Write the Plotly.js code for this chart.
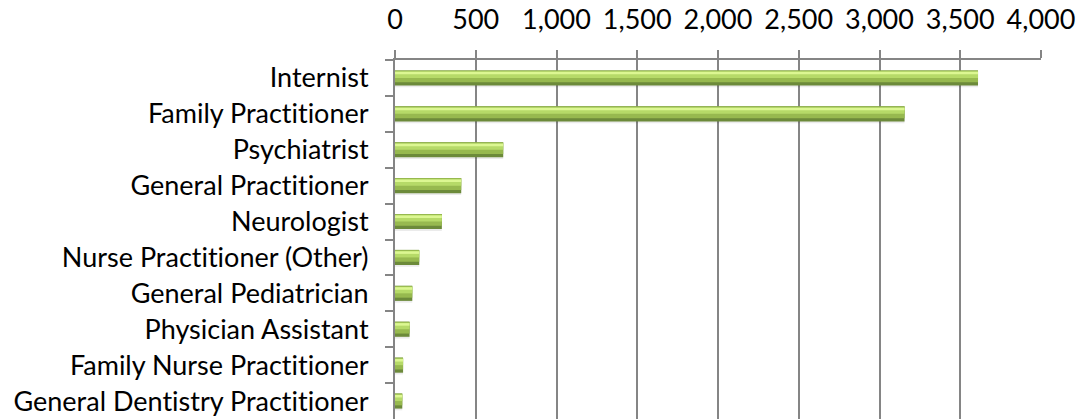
<!DOCTYPE html>
<html>
<head>
<meta charset="utf-8">
<script src="https://cdn.plot.ly/plotly-3.0.1.min.js"></script>
<style>html,body{margin:0;padding:0;background:#fff;}#chart{width:1080px;height:419px;}
#chart text{font-variant-ligatures:none;font-feature-settings:"liga" 0;}</style>
</head>
<body>
<div id="chart"></div>
<script>
const categories = [
  "Internist",
  "Family Practitioner",
  "Psychiatrist",
  "General Practitioner",
  "Neurologist",
  "Nurse Practitioner (Other)",
  "General Pediatrician",
  "Physician Assistant",
  "Family Nurse Practitioner",
  "General Dentistry Practitioner"
];
const values = [3610, 3155, 670, 410, 290, 150, 107, 90, 50, 45];
const xTickVals = [0, 500, 1000, 1500, 2000, 2500, 3000, 3500, 4000];
const xTickText = ["0", "500", "1,000", "1,500", "2,000", "2,500", "3,000", "3,500", "4,000"];

const common = {type: 'bar', orientation: 'h', x: values, y: categories, hoverinfo: 'skip', showlegend: false};
const traces = [
  Object.assign({}, common, {width: 0.44, offset: -0.18, marker: {color: 'rgba(0,0,0,0.08)'}}),
  Object.assign({}, common, {width: 0.42, offset: -0.21, marker: {color: '#6c8a3a'}}),
  Object.assign({}, common, {width: 0.33, offset: -0.21, marker: {color: '#97b94f'}}),
  Object.assign({}, common, {width: 0.18, offset: -0.18, marker: {color: '#b6da68'}}),
  Object.assign({}, common, {width: 0.07, offset: -0.17, marker: {color: '#dcf792'}})
];

const layout = {
  width: 1080, height: 419,
  margin: {l: 395, r: 39, t: 60, b: 0},
  paper_bgcolor: '#ffffff', plot_bgcolor: '#ffffff',
  barmode: 'overlay',
  font: {family: 'Lato, "Open Sans", sans-serif', size: 27, color: '#000'},
  xaxis: {
    side: 'top', range: [0, 4000], tickvals: xTickVals, ticktext: xTickText,
    showgrid: true, gridcolor: '#858585', gridwidth: 2,
    showline: true, linecolor: '#858585', linewidth: 2,
    ticks: 'outside', ticklen: 8, tickcolor: '#858585', tickwidth: 2,
    ticklabelstandoff: 10, zeroline: false, fixedrange: true
  },
  yaxis: {
    type: 'category', autorange: 'reversed',
    showline: true, linecolor: '#858585', linewidth: 2,
    ticks: 'outside', tickson: 'boundaries', ticklen: 8, tickcolor: '#858585', tickwidth: 2,
    ticklabelstandoff: 19, showgrid: false, zeroline: false, fixedrange: true
  }
};
Plotly.newPlot('chart', traces, layout, {displayModeBar: false, staticPlot: true});
</script>
</body>
</html>
